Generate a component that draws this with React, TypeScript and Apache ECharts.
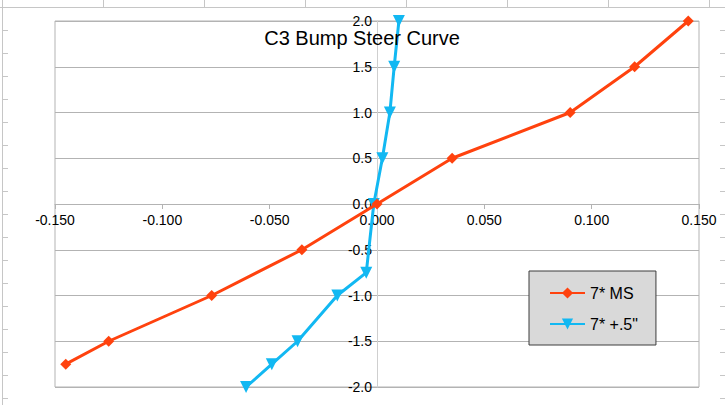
import React, { useEffect, useRef } from "react";
import * as echarts from "echarts";

const title = "C3 Bump Steer Curve";
const seriesNames = ["7* MS", "7* +.5\""];
const msX = [-0.145, -0.125, -0.077, -0.035, 0.0, 0.035, 0.09, 0.12, 0.145];
const msY = [-1.75, -1.5, -1.0, -0.5, 0.0, 0.5, 1.0, 1.5, 2.0];
const halfX = [-0.061, -0.049, -0.037, -0.0185, -0.005, -0.0015, 0.0025, 0.006, 0.008, 0.0102];
const halfY = [-2.0, -1.75, -1.5, -1.0, -0.75, 0.0, 0.5, 1.0, 1.5, 2.0];
const xMin = -0.15;
const xMax = 0.15;
const yMin = -2;
const yMax = 2;

const colRules = [103, 204, 305, 406, 507, 608, 709];
const rowRules = [30, 53, 76, 99, 122, 145, 168, 191, 214, 237, 260, 283, 306, 329, 352, 375, 398];

export default function App() {
  const ref = useRef<HTMLDivElement>(null);
  useEffect(() => {
    if (!ref.current) return;
    const chart = echarts.init(ref.current, null, { renderer: "svg" });
    const gray = "#c6c6c6";
    const W = 725, H = 405;
    const gLeft = 55, gRight = 26, gTop = 21, gBottom = 18;
    const gW = W - gLeft - gRight;
    const gH = H - gTop - gBottom;
    // pixel distance from grid edge to the zero of the other axis
    const xAxisOffset = -Math.round((gH * (0 - yMin)) / (yMax - yMin));
    const yAxisOffset = -Math.round((gW * (0 - xMin)) / (xMax - xMin));

    const graphics: any[] = [
      { type: "line", shape: { x1: 0, y1: 7.5, x2: 725, y2: 7.5 }, style: { stroke: gray, lineWidth: 1 }, silent: true },
      { type: "line", shape: { x1: 2.5, y1: 0, x2: 2.5, y2: 405 }, style: { stroke: gray, lineWidth: 1 }, silent: true },
    ];
    colRules.forEach((x) =>
      graphics.push({ type: "line", shape: { x1: x + 0.5, y1: 0, x2: x + 0.5, y2: 7 }, style: { stroke: gray, lineWidth: 1 }, silent: true })
    );
    rowRules.forEach((y) => {
      graphics.push({ type: "line", shape: { x1: 3, y1: y + 0.5, x2: 8, y2: y + 0.5 }, style: { stroke: gray, lineWidth: 1 }, silent: true });
      graphics.push({ type: "line", shape: { x1: 720, y1: y + 0.5, x2: 725, y2: y + 0.5 }, style: { stroke: gray, lineWidth: 1 }, silent: true });
    });
    graphics.push({
      type: "text",
      x: 362,
      y: 38,
      style: { text: title, fontSize: 20, fontFamily: "Liberation Sans", fill: "#000", align: "center", verticalAlign: "middle" },
      z: 10,
    });

    chart.setOption({
      animation: false,
      backgroundColor: "#ffffff",
      graphic: graphics,
      grid: {
        left: gLeft,
        right: gRight,
        top: gTop,
        bottom: gBottom,
        show: true,
        borderColor: "#b3b3b3",
        borderWidth: 1,
        backgroundColor: "transparent",
      },
      legend: {
        orient: "vertical",
        left: 529,
        top: 271,
        backgroundColor: "#d9d9d9",
        borderColor: "#3c3c3c",
        borderWidth: 1,
        padding: [14, 18, 13, 20],
        itemWidth: 35,
        itemHeight: 14,
        itemGap: 15,
        textStyle: { fontSize: 16, fontFamily: "Liberation Sans", color: "#000" },
        data: seriesNames,
      },
      xAxis: {
        type: "value",
        min: xMin,
        max: xMax,
        interval: 0.05,
        position: "bottom",
        offset: xAxisOffset,
        axisLine: { onZero: false, lineStyle: { color: "#b3b3b3", width: 1 } },
        axisTick: { show: true, length: 5, lineStyle: { color: "#b3b3b3" } },
        axisLabel: {
          formatter: (v: number) => v.toFixed(3),
          fontSize: 14,
          fontFamily: "Liberation Sans",
          color: "#000",
          margin: 9,
        },
        splitLine: { show: false },
      },
      yAxis: {
        type: "value",
        min: yMin,
        max: yMax,
        interval: 0.5,
        position: "left",
        offset: yAxisOffset,
        axisLine: { onZero: false, lineStyle: { color: "#cfcfcf", width: 1 } },
        axisTick: { show: false },
        axisLabel: {
          formatter: (v: number) => v.toFixed(1),
          fontSize: 14,
          fontFamily: "Liberation Sans",
          color: "#000",
          margin: 5,
        },
        splitLine: { show: true, lineStyle: { color: "#b3b3b3", width: 1 } },
      },
      series: [
        {
          name: seriesNames[0],
          type: "line",
          data: msX.map((x, i) => [x, msY[i]]),
          color: "#ff420e",
          lineStyle: { width: 3 },
          symbol: "diamond",
          symbolSize: 11,
          z: 4,
        },
        {
          name: seriesNames[1],
          type: "line",
          data: halfX.map((x, i) => [x, halfY[i]]),
          color: "#12b8f2",
          lineStyle: { width: 3 },
          symbol: "triangle",
          symbolRotate: 180,
          symbolSize: 12,
          z: 3,
        },
      ],
    });
    return () => chart.dispose();
  }, []);
  return <div ref={ref} style={{ width: 725, height: 405, position: "fixed", left: 0, top: 0 }} />;
}
